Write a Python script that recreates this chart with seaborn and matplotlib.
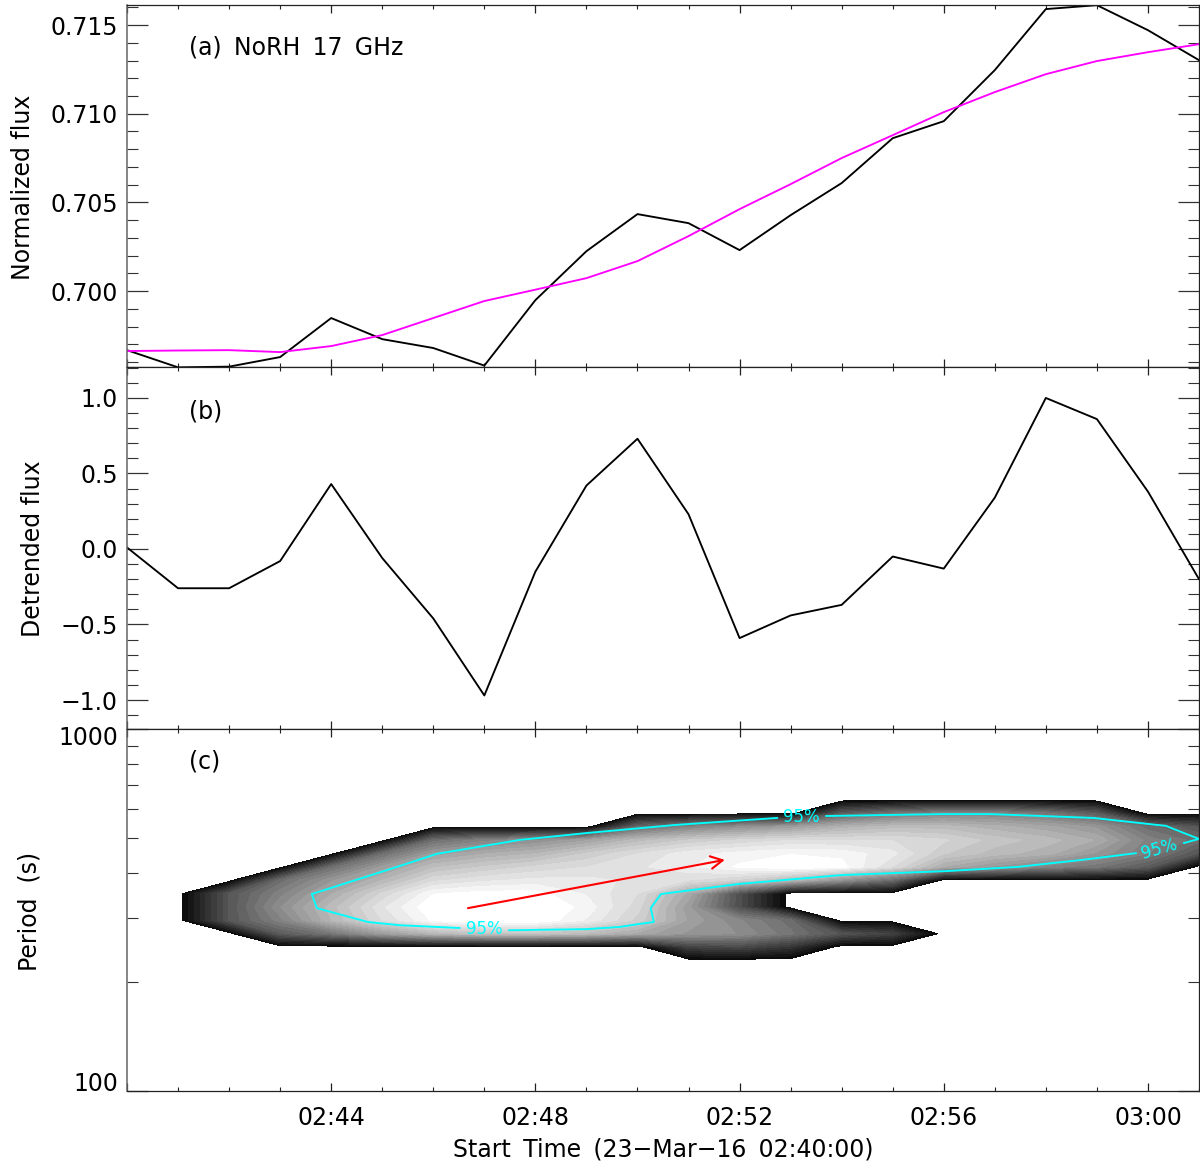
import numpy as np
import matplotlib
matplotlib.use("Agg")
import matplotlib.pyplot as plt
import seaborn as sns

sns.set_style("ticks")
plt.rcParams['font.family'] = ['DejaVu Sans']
plt.rcParams.update({'text.color': 'black', 'axes.labelcolor': 'black',
                     'xtick.labelcolor': 'black', 'ytick.labelcolor': 'black'})

minutes = list(range(22))
norm_flux = [.69667, .6957, .69574, .69628, .69848, .69729, .69679, .6958, .69949, .70225, .70434,
             .70383, .70231, .70428, .70609, .70862, .70958, .71246, .7159, .71612, .71471, .71302]
trend_flux = [.69662, .69665, .69667, .69656, .6969, .69752, .69848, .69944, .70008, .70073, .70169,
              .7031, .70462, .70603, .7075, .70879, .71009, .71122, .71223, .71297, .71347, .71392]
detrended = [.01, -.26, -.26, -.08, .43, -.06, -.46, -.97, -.15, .42, .73,
             .23, -.59, -.44, -.37, -.05, -.13, .34, 1.0, .86, .38, -.20]

periods = [637, 585, 537, 493, 453, 416, 382, 351, 322, 296, 272, 250, 229]
power = [
 [0,0,0,0,0,0,0,0,0,0,0,0,0,0,0,0,0,0,0,0,0,0],
 [0,0,0,0,0,0,0,0,0,0,0,0,0,0,.35,.45,.5,.5,.45,.35,0,0],
 [0,0,0,0,0,0,0,0,0,0,.4,.5,.55,.6,.68,.72,.72,.68,.64,.58,.42,.32],
 [0,0,0,0,0,0,.42,.5,.55,.62,.72,.78,.82,.85,.85,.85,.82,.76,.72,.66,.5,.42],
 [0,0,0,0,0,.42,.6,.66,.7,.78,.85,.91,.94,.96,.95,.9,.78,.72,.68,.58,.48,.32],
 [0,0,0,0,.42,.6,.73,.78,.82,.85,.88,.92,.97,1,.98,.85,.66,.58,.5,.45,.35,0],
 [0,0,0,.42,.58,.7,.84,.88,.9,.9,.88,.85,.8,.7,.55,.4,0,0,0,0,0,0],
 [0,0,.33,.5,.66,.82,.96,.98,.98,.92,.85,.65,.3,0,0,0,0,0,0,0,0,0],
 [0,0,.33,.55,.72,.88,1,1,1,.95,.83,.6,.3,0,0,0,0,0,0,0,0,0],
 [0,0,.33,.5,.7,.85,.97,1,1,.92,.8,.62,.52,.42,0,0,0,0,0,0,0,0],
 [0,0,0,.35,.45,.6,.7,.75,.75,.72,.65,.58,.55,.45,.32,.25,0,0,0,0,0,0],
 [0,0,0,0,0,0,0,0,0,0,0,.25,.28,.2,0,0,0,0,0,0,0,0],
 [0,0,0,0,0,0,0,0,0,0,0,0,0,0,0,0,0,0,0,0,0,0],
]

sig_t_1 = [7.48, 9.01, 9.66, 10.01, 10.32, 10.26, 10.46, 11.97, 14.0, 16.05, 17.45, 18.71, 19.77]
sig_p_1 = [278, 280, 284, 289, 293, 320, 350, 373, 395, 405, 416, 435, 454]
sig_t_2 = [20.7, 21.0, 20.35, 18.93, 16.91, 15.97, 13.69]
sig_p_2 = [484, 497, 540, 568, 582, 582, 575]
sig_t_3 = [12.74, 10.73, 9.66, 9.01, 7.7, 6.07, 5.29, 3.62, 3.72, 4.72, 5.35, 6.52]
sig_p_3 = [568, 543, 526, 516, 494, 452, 416, 350, 320, 293, 287, 282]

time_ticks = [0, 4, 8, 12, 16, 20]
time_labels = ['', '02:44', '02:48', '02:52', '02:56', '03:00']
arrow_t = [6.68, 11.71]
arrow_p = [320, 435]

W, H = 1200, 1167
AW = 1072
fig = plt.figure(figsize=(12, 11.67), dpi=100)
def make_ax(top):
    return fig.add_axes([127 / W, (H - top - 362) / H, AW / W, 362 / H])
ax_a, ax_b, ax_c = make_ax(5), make_ax(367), make_ax(729)

FS = 17
def style(ax):
    ax.set_xlim(0, 21)
    ax.set_xticks(time_ticks)
    ax.set_xticks(minutes, minor=True)
    ax.tick_params(axis='x', which='major', direction='in', length=5.5, width=0.9, top=True, bottom=True,
                   labelsize=FS, pad=11, color='#222222')
    ax.tick_params(axis='x', which='minor', direction='in', length=3, width=0.8, top=True, bottom=True,
                   color='#222222')
    ax.tick_params(axis='y', which='major', direction='in', length=15, width=0.9, left=True, right=True,
                   labelsize=FS, pad=6.5, color='#333333')
    ax.tick_params(axis='y', which='minor', direction='in', length=8, width=0.8, left=True, right=True,
                   color='#333333')
    for s in ax.spines.values():
        s.set_linewidth(0.9)
        s.set_color('#222222')
        s.set_visible(True)
    ax.spines['left'].set_color('#666666')
    ax.spines['left'].set_linewidth(1.1)

for ax in (ax_a, ax_b, ax_c):
    style(ax)

LW = 1.35
sns.lineplot(x=minutes, y=norm_flux, ax=ax_a, color='black', linewidth=LW, errorbar=None)
sns.lineplot(x=minutes, y=trend_flux, ax=ax_a, color='#ff00ff', linewidth=LW, errorbar=None)
ax_a.set_ylim(0.69572, 0.71613)
ax_a.set_yticks([0.700, 0.705, 0.710, 0.715])
ax_a.set_yticklabels(['0.700', '0.705', '0.710', '0.715'])
ax_a.set_yticks(np.arange(0.696, 0.7161, 0.001), minor=True)
ax_a.set_xticklabels([])

sns.lineplot(x=minutes, y=detrended, ax=ax_b, color='black', linewidth=LW, errorbar=None)
ax_b.set_ylim(-1.192, 1.205)
ax_b.set_yticks([-1, -0.5, 0, 0.5, 1])
ax_b.set_yticklabels(['\u22121.0', '\u22120.5', '0.0', '0.5', '1.0'])
ax_b.set_yticks(np.arange(-1.1, 1.21, 0.1), minor=True)
ax_b.set_xticklabels([])

ax_c.set_yscale('log')
ax_c.set_ylim(100, 1000)
levels = np.linspace(0.03, 1.0001, 27)
ax_c.contourf(minutes, periods[::-1], np.array(power)[::-1], levels=levels, cmap='gray', vmin=0, vmax=0.985)
for st, sp in ((sig_t_1, sig_p_1), (sig_t_2, sig_p_2), (sig_t_3, sig_p_3)):
    sns.lineplot(x=st, y=sp, ax=ax_c, color='#00ffff', linewidth=LW, sort=False, estimator=None, errorbar=None)
ax_c.annotate('', xy=(arrow_t[1], arrow_p[1]), xytext=(arrow_t[0], arrow_p[0]),
              arrowprops=dict(arrowstyle='->,head_length=0.85,head_width=0.45', color='red', lw=1.5,
                              shrinkA=0, shrinkB=0))
ax_c.set_yticks([100, 1000])
ax_c.set_yticklabels(['', ''])
ax_c.set_yticks([200, 300, 400, 500, 600, 700, 800, 900], minor=True)
ax_c.set_yticklabels([], minor=True)
ax_c.annotate('1000', xy=(0, 1000), xytext=(-9, -9), textcoords='offset pixels', ha='right', va='center',
              fontsize=FS, annotation_clip=False)
ax_c.annotate('100', xy=(0, 100), xytext=(-9, 7), textcoords='offset pixels', ha='right', va='center',
              fontsize=FS, annotation_clip=False)
ax_c.set_xticklabels(time_labels)

for ax, lab, xc, yc in ((ax_a, 'Normalized flux', 23, 187), (ax_b, 'Detrended flux', 33, 549), (ax_c, 'Period  (s)', 29, 911)):
    ax.set_ylabel(lab, fontsize=FS, rotation=90, va='center', ha='center')
    ax.yaxis.set_label_coords((xc - 127) / AW, (H - yc - ax.get_position().y0 * H) / 362)

ax_c.set_xlabel('Start\u2009 Time\u2009 (23\u2212Mar\u221216\u2009 02:40:00)', fontsize=FS, va='center', ha='center')
ax_c.xaxis.set_label_coords((663 - 127) / AW, (1091 - 1149) / 362)

tx = (189 - 127) / AW
ax_a.text(tx, (367 - 48) / 362, '(a)\u2009 NoRH\u2009 17\u2009 GHz', transform=ax_a.transAxes, fontsize=FS, va='center')
ax_b.text(tx, (729 - 411) / 362, '(b)', transform=ax_b.transAxes, fontsize=FS, va='center')
ax_c.text(tx, (1091 - 761) / 362, '(c)', transform=ax_c.transAxes, fontsize=FS, va='center')

for t, p, rot in ((7.0, 280, 0), (13.21, 571, 0), (20.23, 467, 16)):
    ax_c.text(t, p, '95%', color='#00ffff', fontsize=12, ha='center', va='center', rotation=rot)

fig.savefig('out.png', dpi=100, facecolor='white')
